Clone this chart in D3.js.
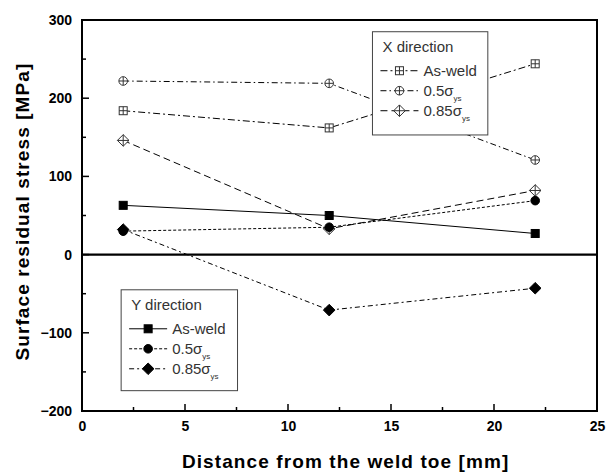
<!DOCTYPE html>
<html>
<head>
<meta charset="utf-8">
<script src="https://cdn.jsdelivr.net/npm/d3@7"></script>
<style>
  body { margin: 0; background: #fff; }
  text { font-family: "Liberation Sans", Arial, sans-serif; }
</style>
</head>
<body>
<svg id="chart" width="606" height="475"></svg>
<script>
// data
var distances = [2, 12, 22];
var xAsWeld = [184, 162, 244];
var x05 = [222, 219, 121];
var x085 = [146, 33, 82];
var yAsWeld = [63, 50, 27];
var y05 = [30, 35, 69];
var y085 = [32, -71, -43];
var xTicks = [0, 5, 10, 15, 20, 25];
var yTicks = [-200, -100, 0, 100, 200, 300];

//bounds
var margin = {top: 20, right: 9, bottom: 64, left: 82},
    width = 606 - margin.left - margin.right,
    height = 475 - margin.top - margin.bottom;

var svg = d3.select("#chart")
  .append("g")
  .attr("transform", "translate(" + margin.left + "," + margin.top + ")");

var x = d3.scaleLinear().domain([0, 25]).range([0, width]);
var y = d3.scaleLinear().domain([-200, 300]).range([height, 0]);

// series styles, values come from the arrays above
var series = [
  {vals: xAsWeld, marker: "sqcross", dash: "7,3,2,3", fill: "#fff"},
  {vals: x05, marker: "circross", dash: "6,3,1.5,3", fill: "#fff"},
  {vals: x085, marker: "diacross", dash: "7,4", fill: "#fff"},
  {vals: yAsWeld, marker: "square", dash: null, fill: "#000"},
  {vals: y05, marker: "circle", dash: "3,2", fill: "#000"},
  {vals: y085, marker: "diamond", dash: "5,3,2,3", fill: "#000"}
];

// zero line
svg.append("line")
  .attr("x1", 0).attr("x2", width)
  .attr("y1", y(0)).attr("y2", y(0))
  .attr("stroke", "#000").attr("stroke-width", 2.2);

// lines
var line = d3.line().x(function (d, i) { return x(distances[i]); }).y(function (d) { return y(d); });
series.forEach(function (s) {
  svg.append("path")
    .datum(s.vals)
    .attr("d", line)
    .attr("fill", "none")
    .attr("stroke", "#000")
    .attr("stroke-width", 1)
    .attr("stroke-dasharray", s.dash);
});

function drawMarker(g, type, cx, cy, fill) {
  var m = g.append("g").attr("transform", "translate(" + cx + "," + cy + ")");
  var stroke = fill === "#000" ? "#000" : "#333";
  if (type === "square" || type === "sqcross") {
    m.append("rect").attr("x", -4).attr("y", -4).attr("width", 8).attr("height", 8)
      .attr("fill", fill).attr("stroke", stroke);
    if (type === "sqcross") {
      m.append("path").attr("d", "M-4,0H4M0,-4V4").attr("stroke", stroke);
    }
  } else if (type === "circle" || type === "circross") {
    m.append("circle").attr("r", 4.3).attr("fill", fill).attr("stroke", stroke);
    if (type === "circross") {
      m.append("path").attr("d", "M-4.3,0H4.3M0,-4.3V4.3").attr("stroke", stroke);
    }
  } else {
    m.append("path").attr("d", "M0,-5.8L5.8,0L0,5.8L-5.8,0Z").attr("fill", fill).attr("stroke", stroke);
    if (type === "diacross") {
      m.append("path").attr("d", "M-5.8,0H5.8M0,-5.8V5.8").attr("stroke", stroke);
    }
  }
}

series.forEach(function (s) {
  s.vals.forEach(function (v, i) {
    drawMarker(svg, s.marker, x(distances[i]), y(v), s.fill);
  });
});

// axes
var xAxis = d3.axisBottom(x).tickValues(xTicks).tickSize(0).tickPadding(10);
var yAxis = d3.axisLeft(y).tickValues(yTicks).tickSize(0).tickPadding(10);

var gx = svg.append("g").attr("transform", "translate(0," + height + ")").call(xAxis);
var gy = svg.append("g").call(yAxis);
[gx, gy].forEach(function (g) {
  g.select(".domain").remove();
  g.selectAll("text").attr("font-size", 14).attr("font-weight", "bold")
    .attr("font-family", "Liberation Sans, Arial, sans-serif").attr("fill", "#000");
});

// frame
svg.append("rect").attr("width", width).attr("height", height)
  .attr("fill", "none").attr("stroke", "#000").attr("stroke-width", 2);

// inward ticks (major and minor)
var xt = d3.range(0, 25.01, 2.5);
svg.selectAll(".xtick").data(xt).enter().append("line")
  .attr("x1", function (d) { return x(d); }).attr("x2", function (d) { return x(d); })
  .attr("y1", height).attr("y2", function (d, i) { return height - (i % 2 === 0 ? 7 : 4); })
  .attr("stroke", "#000").attr("stroke-width", 1.5);
var yt = d3.range(-200, 300.01, 50);
svg.selectAll(".ytick").data(yt).enter().append("line")
  .attr("y1", function (d) { return y(d); }).attr("y2", function (d) { return y(d); })
  .attr("x1", 0).attr("x2", function (d, i) { return i % 2 === 0 ? 7 : 4; })
  .attr("stroke", "#000").attr("stroke-width", 1.5);

// axis titles
svg.append("text")
  .attr("x", x(12.8)).attr("y", height + 57)
  .attr("text-anchor", "middle").attr("font-size", 19).attr("font-weight", "bold")
  .attr("letter-spacing", 1.1)
  .text("Distance from the weld toe [mm]");
svg.append("text")
  .attr("transform", "rotate(-90)")
  .attr("x", -y(55)).attr("y", -53)
  .attr("text-anchor", "middle").attr("font-size", 19).attr("font-weight", "bold")
  .attr("letter-spacing", 1.1)
  .text("Surface residual stress [MPa]");

// legends
function legend(px, py, w, h, title, items) {
  var g = svg.append("g").attr("transform", "translate(" + px + "," + py + ")");
  g.append("rect").attr("width", w).attr("height", h).attr("fill", "#fff").attr("stroke", "#444");
  g.append("text").attr("x", 10).attr("y", 20).attr("font-size", 15).attr("fill", "#333").text(title);
  items.forEach(function (it, i) {
    var cy = 39 + i * 20;
    var s = series[it.idx];
    g.append("line").attr("x1", 8).attr("x2", 46).attr("y1", cy).attr("y2", cy)
      .attr("stroke", "#000").attr("stroke-dasharray", s.dash);
    drawMarker(g, s.marker, 27, cy, s.fill);
    var t = g.append("text").attr("x", 51).attr("y", cy + 5).attr("font-size", 15).attr("fill", "#333");
    t.append("tspan").text(it.label);
    if (it.sub) {
      t.append("tspan").text("σ");
      t.append("tspan").attr("baseline-shift", "sub").attr("font-size", 8).text(it.sub);
    }
  });
}

legend(x(14.1), y(285), x(19.7) - x(14.1), y(153) - y(285), "X direction", [
  {idx: 0, label: "As-weld"},
  {idx: 1, label: "0.5", sub: "ys"},
  {idx: 2, label: "0.85", sub: "ys"}
]);
legend(x(1.9), y(-45), x(7.55) - x(1.9), y(-174) - y(-45), "Y direction", [
  {idx: 3, label: "As-weld"},
  {idx: 4, label: "0.5", sub: "ys"},
  {idx: 5, label: "0.85", sub: "ys"}
]);
</script>
</body>
</html>
